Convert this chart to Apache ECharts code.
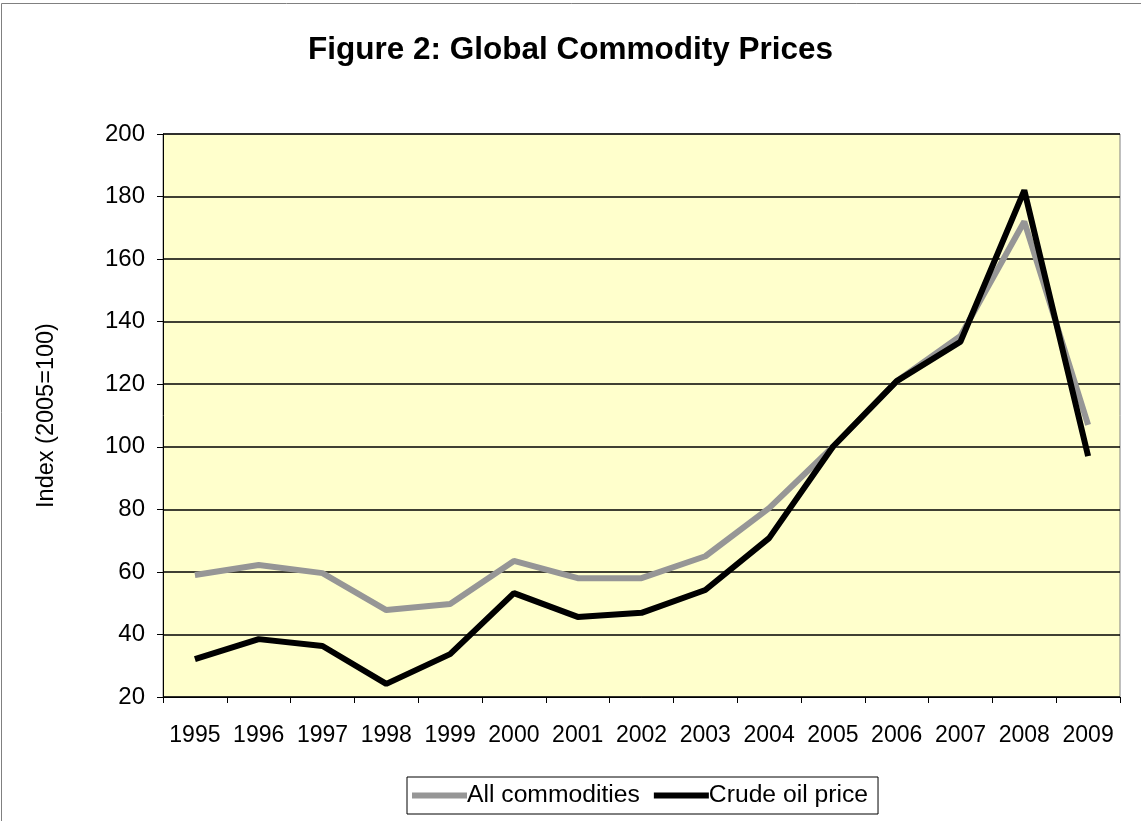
<!DOCTYPE html>
<html>
<head>
<meta charset="utf-8">
<script src="https://cdn.jsdelivr.net/npm/echarts@6/dist/echarts.min.js"></script>
<style>
  html, body { margin: 0; padding: 0; background: #fff; }
  #chart { width: 1141px; height: 821px; }
</style>
</head>
<body>
<div id="chart"></div>
<script>
const years = ['1995', '1996', '1997', '1998', '1999', '2000', '2001', '2002',
  '2003', '2004', '2005', '2006', '2007', '2008', '2009'];
// index values, 2005 = 100
const allCommodities = [59, 62.2, 59.6, 47.8, 49.7, 63.5, 58, 58, 65, 80.4, 100, 121, 135.4, 172, 107];
const crudeOil = [32.1, 38.5, 36.3, 24.2, 33.7, 53.2, 45.6, 46.9, 54.2, 70.8, 100, 121, 133.6, 182, 97];

const chart = echarts.init(document.getElementById('chart'));

const option = {
  backgroundColor: '#fff',
  animation: false,
  textStyle: { fontFamily: 'Liberation Sans, Arial, sans-serif', color: '#000' },
  title: {
    text: 'Figure 2: Global Commodity Prices',
    left: 'center',
    top: 29,
    textStyle: { fontSize: 31.5, fontWeight: 'bold', color: '#000' }
  },
  graphic: [
    {
      // outer chart border
      type: 'rect',
      shape: { x: 1.5, y: 3.5, width: 1160, height: 840 },
      style: { fill: 'none', stroke: '#808080', lineWidth: 1 },
      silent: true
    }
  ],
  legend: {
    bottom: 7,
    left: 407,
    icon: 'rect',
    itemWidth: 55,
    itemHeight: 6,
    itemGap: 14,
    padding: [6, 10, 6, 5],
    borderColor: '#000',
    borderWidth: 1,
    borderRadius: 0,
    textStyle: { fontSize: 24.7, color: '#000', padding: [0, 0, 0, -5] },
    data: ['All commodities', 'Crude oil price']
  },
  grid: {
    left: 163,
    right: 21,
    top: 134,
    bottom: 124,
    show: true,
    backgroundColor: '#FFFFCC',
    borderColor: '#808080',
    borderWidth: 1
  },
  xAxis: {
    type: 'category',
    data: years,
    boundaryGap: true,
    axisLine: { lineStyle: { color: '#000', width: 1 } },
    axisTick: { show: true, interval: 0, length: 6, lineStyle: { color: '#000' } },
    axisLabel: { interval: 0, fontSize: 23, color: '#000', margin: 27 }
  },
  yAxis: {
    type: 'value',
    min: 20,
    max: 200,
    interval: 20,
    name: 'Index (2005=100)',
    nameLocation: 'middle',
    nameGap: 104,
    nameTextStyle: { fontSize: 23.5, color: '#000' },
    axisLine: { show: true, lineStyle: { color: '#000', width: 1 } },
    axisTick: { show: true, length: 6, lineStyle: { color: '#000' } },
    axisLabel: { fontSize: 24, color: '#000', margin: 18 },
    splitLine: { show: true, lineStyle: { color: '#000', width: 1.5 } }
  },
  series: [
    {
      name: 'All commodities',
      type: 'line',
      data: allCommodities,
      symbol: 'none',
      color: '#969696',
      lineStyle: { width: 6, color: '#969696' },
      z: 2
    },
    {
      name: 'Crude oil price',
      type: 'line',
      data: crudeOil,
      symbol: 'none',
      color: '#000',
      lineStyle: { width: 6, color: '#000' },
      z: 3
    }
  ]
};

chart.setOption(option);
</script>
</body>
</html>
